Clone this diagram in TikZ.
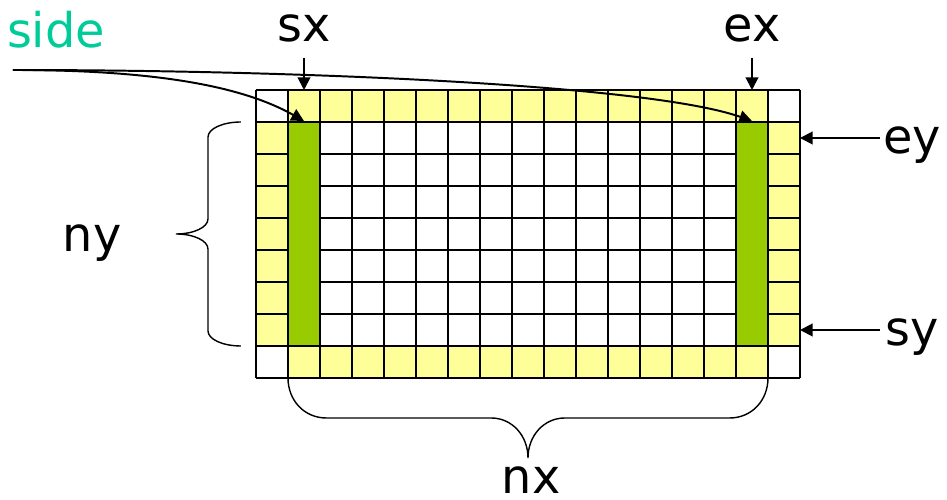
\documentclass[tikz,border=0pt]{standalone}
\usepackage{fontspec}
\setmainfont{DejaVu Sans}
\usetikzlibrary{arrows.meta,positioning}
\definecolor{ghostyellow}{RGB}{255,255,153}
\definecolor{sidegreen}{RGB}{153,204,0}
\definecolor{labelteal}{RGB}{0,204,153}

\begin{document}
\begin{tikzpicture}[
        x=0.8cm, y=0.8cm,
        lbl/.style={
            anchor=base, inner sep=0pt, font=\fontsize{34}{40}\selectfont
        },
        sidecol/.style={
            rectangle, draw, line width=1.4pt, fill=sidegreen, inner sep=0pt,
            minimum width=0.8cm, minimum height=5.6cm
        },
        ptr/.style={
            -{Triangle[length=9pt,width=9pt]}, line width=1.4pt
        },
        brace/.style={
            line width=1pt
        }
    ]
    \useasboundingbox (-8,-3.8125) rectangle (21.594,11.8125);

    % Ghost cells
    \fill[ghostyellow] (1,0) rectangle (16,1);
    \fill[ghostyellow] (1,8) rectangle (16,9);
    \fill[ghostyellow] (0,1) rectangle (1,8);
    \fill[ghostyellow] (16,1) rectangle (17,8);

    % Grid
    \foreach \i in {0,...,17}
        \draw[line width=1.4pt] (\i,0) -- (\i,9);
    \foreach \j in {0,...,9}
        \draw[line width=1.4pt] (0,\j) -- (17,\j);

    % Side columns
    \node[sidecol] (west) at (1.5,4.5) {};
    \node[sidecol] (east) at (15.5,4.5) {};

    % Labels
    \node[lbl, text=labelteal] (side) at (-6.25,10.34) {side};
    \node[lbl] (sx) at (1.5,10.5) {sx};
    \node[lbl] (ex) at (15.5,10.5) {ex};
    \node[lbl] (ey) at (20.5,7.03) {ey};
    \node[lbl] (sy) at (20.5,1.03) {sy};
    \node[lbl] (ny) at (-5.12,3.94) {ny};
    \node[lbl] (nx) at (8.6,-3.62) {nx};

    % Pointer ends
    \coordinate (sxfrom) at (1.5,10);
    \coordinate (sxto) at (1.5,9);
    \coordinate (exfrom) at (15.5,10);
    \coordinate (exto) at (15.5,9);
    \coordinate (eyfrom) at (19.5,7.5);
    \coordinate (eyto) at (17,7.5);
    \coordinate (syfrom) at (19.5,1.5);
    \coordinate (syto) at (17,1.5);
    \coordinate (sidefrom) at (-7.594,9.625);

    % Index pointers
    \draw[ptr] (sxfrom) -- (sxto);
    \draw[ptr] (exfrom) -- (exto);
    \draw[ptr] (eyfrom) -- (eyto);
    \draw[ptr] (syfrom) -- (syto);

    % side pointers
    \draw[ptr] (sidefrom) .. controls (-3.3,9.625) and (-0.5,9.16) .. (west.north);
    \draw[ptr] (sidefrom) .. controls (1.375,9.625) and (12.3,9.16) .. (east.north);

    % Braces
    \draw[brace] (-0.47,8) .. controls (-1.04,8) and (-1.5,7.79) .. (-1.5,7.53)
        -- (-1.5,4.97) .. controls (-1.5,4.71) and (-1.94,4.5) .. (-2.5,4.5)
        .. controls (-1.94,4.5) and (-1.5,4.29) .. (-1.5,4.03)
        -- (-1.5,1.47) .. controls (-1.5,1.21) and (-1.04,1) .. (-0.47,1);
    \draw[brace] (1,0) .. controls (1,-0.69) and (1.5,-1.25) .. (2.2,-1.25)
        -- (7.35,-1.25) .. controls (8,-1.25) and (8.5,-1.8) .. (8.5,-2.5)
        .. controls (8.5,-1.8) and (9,-1.25) .. (9.65,-1.25)
        -- (14.8,-1.25) .. controls (15.5,-1.25) and (16,-0.69) .. (16,0);

\end{tikzpicture}
\end{document}
